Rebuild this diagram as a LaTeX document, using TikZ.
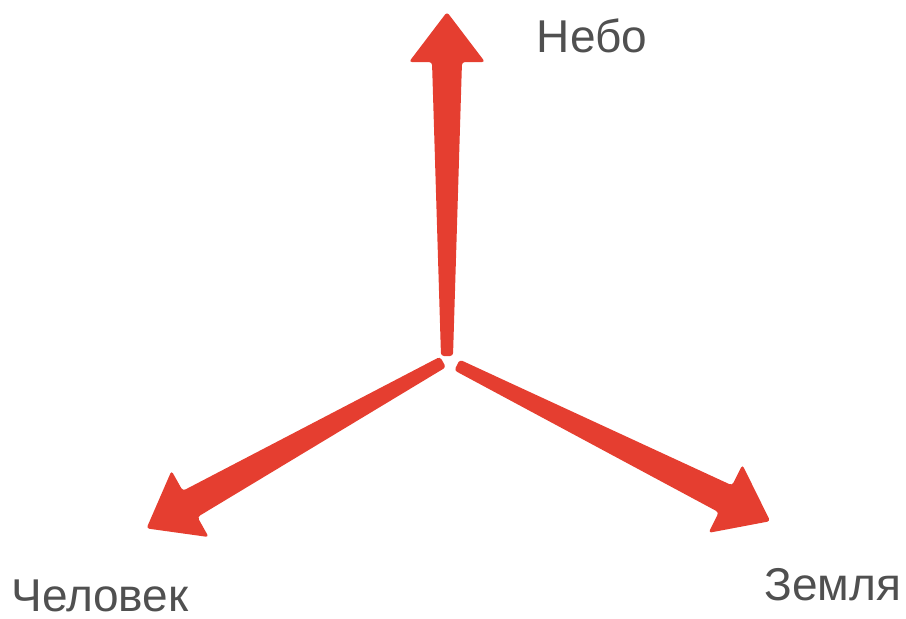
\documentclass[tikz,border=0pt]{standalone}
\usepackage{fontspec}
\setmainfont{Liberation Sans}
\usepackage{tikz}
\definecolor{arrowred}{RGB}{229,62,48}
\definecolor{labelgray}{RGB}{80,80,80}
% tapered arrow: start, visual angle, length
\newcommand{\taperarrow}[3]{%
	\begin{scope}[shift={#1},rotate=#2]
		\fill[arrowred,rounded corners=3pt] (0,-6) -- (#3-50,-15) -- (#3-50,-38) -- (#3,0) -- (#3-50,38) -- (#3-50,15) -- (0,6) -- cycle;
	\end{scope}}

\begin{document}
\begin{tikzpicture}[x=1pt,y=-1pt,every node/.style={text=labelgray,font=\fontsize{46}{54}\selectfont,inner sep=0pt,anchor=base}]
	\useasboundingbox (0,0) rectangle (906,619);
	\coordinate (up) at (447,356);
	\coordinate (left) at (443,362);
	\coordinate (right) at (457,365);
	\taperarrow{(up)}{90}{344}
	\taperarrow{(left)}{209.3}{340}
	\taperarrow{(right)}{-26.5}{350}
	\node (nebo) at (592,52) {Небо};
	\node (chelovek) at (100,611) {Человек};
	\node (zemlya) at (833,600) {Земля};
\end{tikzpicture}
\end{document}
